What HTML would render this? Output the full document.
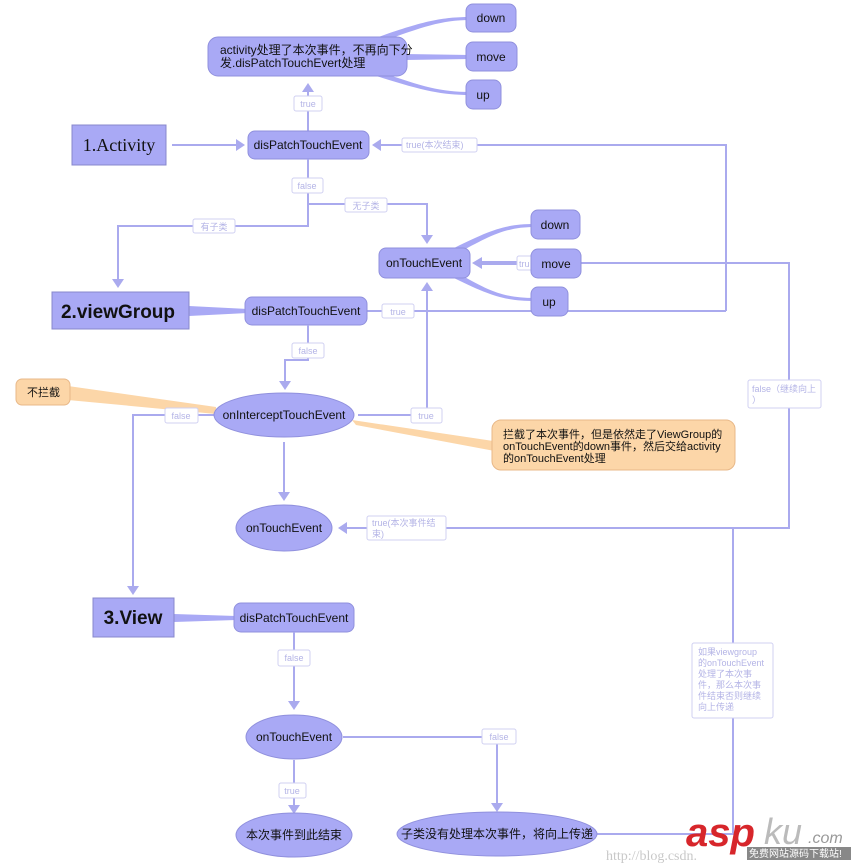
<!DOCTYPE html>
<html><head><meta charset="utf-8"><style>
html,body{margin:0;padding:0;background:#fff;}
svg{display:block;}
text{font-family:"Liberation Sans","Noto Sans CJK SC",sans-serif;}
.n{fill:#a9a9f5;stroke:#9090dd;stroke-width:1;}
.t{font-size:12px;fill:#111;}
.l{stroke:#aaaaee;stroke-width:2;fill:none;}
.lb{fill:#fff;stroke:#d0d0f2;stroke-width:1;}
.lt{font-size:9px;fill:#b4b4e6;}
.w{fill:#a9a9f5;}
.a{fill:#aaaaee;}
</style></head><body>
<svg width="856" height="866" viewBox="0 0 856 866" xmlns="http://www.w3.org/2000/svg">
<path class="w" d="M370,40 C420,22 440,17 470,17 L470,20 C440,20 420,28 375,44 Z"/>
<path class="w" d="M405,54 L470,55 L470,59 L405,60 Z"/>
<path class="w" d="M370,74 C420,90 440,95 470,95 L470,92 C440,92 420,86 375,70 Z"/>
<rect class="n" x="208" y="37" width="199" height="39" rx="10"/>
<text class="t" x="220" y="54">activity处理了本次事件，不再向下分</text>
<text class="t" x="220" y="67">发.disPatchTouchEvert处理</text>
<rect class="n" x="466" y="4" width="50" height="28" rx="7"/><text class="t" x="491" y="22" text-anchor="middle">down</text>
<rect class="n" x="466" y="42" width="51" height="29" rx="7"/><text class="t" x="491" y="61" text-anchor="middle">move</text>
<rect class="n" x="466" y="80" width="35" height="29" rx="7"/><text class="t" x="483" y="99" text-anchor="middle">up</text>

<line class="l" x1="308" y1="131" x2="308" y2="90"/><path class="a" d="M302,92 L308,83 L314,92Z"/>
<rect class="lb" x="294" y="96" width="28" height="15" rx="2"/><text class="lt" x="308" y="107" text-anchor="middle">true</text>
<rect fill="#a9a9f5" stroke="#8888cc" x="72" y="125" width="94" height="40"/>
<text x="119" y="151" text-anchor="middle" style="font-family:'Liberation Serif',serif;font-size:18px;fill:#111">1.Activity</text>
<line class="l" x1="172" y1="145" x2="238" y2="145"/><path class="a" d="M236,139 L245,145 L236,151Z"/>
<rect class="n" x="248" y="131" width="121" height="28" rx="7"/><text class="t" x="308" y="149" text-anchor="middle">disPatchTouchEvent</text>
<path class="l" d="M726,311 L726,145 L380,145"/><path class="a" d="M381,139 L372,145 L381,151Z"/>
<rect class="lb" x="402" y="138" width="75" height="14" rx="2"/><text class="lt" x="406" y="148">true(本次结束)</text>

<path class="l" d="M308,159 L308,226 L118,226 L118,280"/><path class="a" d="M112,279 L118,288 L124,279Z"/>
<path class="l" d="M308,204 L427,204 L427,236"/><path class="a" d="M421,235 L427,244 L433,235Z"/>
<rect class="lb" x="292" y="178" width="31" height="15" rx="2"/><text class="lt" x="307" y="189" text-anchor="middle">false</text>
<rect class="lb" x="345" y="198" width="42" height="14" rx="2"/><text class="lt" x="366" y="209" text-anchor="middle">无子类</text>
<rect class="lb" x="193" y="219" width="42" height="14" rx="2"/><text class="lt" x="214" y="230" text-anchor="middle">有子类</text>

<path class="w" d="M450,250 C490,230 505,224 535,224 L535,227 C505,227 490,236 456,254 Z"/>
<path class="w" d="M450,276 C490,296 505,301 535,301 L535,298 C505,298 490,292 456,272 Z"/>
<path class="l" d="M581,263 L789,263 L789,528 L345,528"/><path class="a" d="M347,522 L338,528 L347,534Z"/>
<line class="l" x1="531" y1="263" x2="480" y2="263" style="stroke-width:4"/><path class="a" d="M482,257 L472,263 L482,269Z"/>
<rect class="lb" x="517" y="256" width="16" height="14" rx="2"/><text class="lt" x="519" y="267">tru</text>
<rect class="n" x="379" y="248" width="91" height="30" rx="7"/><text class="t" x="424" y="267" text-anchor="middle">onTouchEvent</text>
<rect class="n" x="531" y="210" width="49" height="29" rx="7"/><text class="t" x="555" y="229" text-anchor="middle">down</text>
<rect class="n" x="531" y="249" width="50" height="29" rx="7"/><text class="t" x="556" y="268" text-anchor="middle">move</text>
<line class="l" x1="367" y1="311" x2="726" y2="311"/>
<rect class="n" x="531" y="287" width="37" height="29" rx="7"/><text class="t" x="549" y="306" text-anchor="middle">up</text>
<rect class="lb" x="382" y="304" width="32" height="14" rx="2"/><text class="lt" x="398" y="315" text-anchor="middle">true</text>
<rect class="lb" x="748" y="380" width="73" height="28" rx="2"/><text class="lt" x="752" y="392">false（继续向上</text><text class="lt" x="752" y="403">）</text>

<path class="w" d="M189,306 L248,309 L248,313 L189,316 Z"/>
<rect fill="#a9a9f5" stroke="#8888cc" x="52" y="292" width="137" height="37"/>
<text x="118" y="318" text-anchor="middle" style="font-size:19px;font-weight:bold;fill:#111">2.viewGroup</text>
<rect class="n" x="245" y="297" width="122" height="28" rx="7"/><text class="t" x="306" y="315" text-anchor="middle">disPatchTouchEvent</text>
<line class="l" x1="427" y1="415" x2="427" y2="290"/><path class="a" d="M421,291 L427,282 L433,291Z"/>
<path class="l" d="M308,325 L308,360 L285,360 L285,382"/><path class="a" d="M279,381 L285,390 L291,381Z"/>
<rect class="lb" x="292" y="343" width="32" height="15" rx="2"/><text class="lt" x="308" y="354" text-anchor="middle">false</text>

<path d="M68,386 L216,407 L216,414 L68,400Z" fill="#fcd6a8"/>
<path d="M352,420 L500,442 L500,452 L356,425Z" fill="#fcd6a8"/>
<rect x="16" y="379" width="54" height="26" rx="6" fill="#fcd6a8" stroke="#e8b888"/><text class="t" x="27" y="396" style="font-size:11px">不拦截</text>
<path class="l" d="M214,415 L133,415 L133,587"/><path class="a" d="M127,586 L133,595 L139,586Z"/>
<rect class="lb" x="165" y="408" width="33" height="15" rx="2"/><text class="lt" x="181" y="419" text-anchor="middle">false</text>
<line class="l" x1="358" y1="415" x2="427" y2="415"/>
<rect class="lb" x="411" y="408" width="31" height="15" rx="2"/><text class="lt" x="426" y="419" text-anchor="middle">true</text>
<ellipse class="n" cx="284" cy="415" rx="70" ry="22"/><text class="t" x="284" y="419" text-anchor="middle">onInterceptTouchEvent</text>
<rect x="492" y="420" width="243" height="50" rx="9" fill="#fcd6a8" stroke="#e8b888"/>
<text class="t" x="503" y="438" style="font-size:11px">拦截了本次事件，但是依然走了ViewGroup的</text>
<text class="t" x="503" y="450" style="font-size:11px">onTouchEvent的down事件，然后交给activity</text>
<text class="t" x="503" y="462" style="font-size:11px">的onTouchEvent处理</text>
<line class="l" x1="284" y1="442" x2="284" y2="493"/><path class="a" d="M278,492 L284,501 L290,492Z"/>
<ellipse class="n" cx="284" cy="528" rx="48" ry="23"/><text class="t" x="284" y="532" text-anchor="middle">onTouchEvent</text>
<rect class="lb" x="367" y="516" width="79" height="24" rx="2"/><text class="lt" x="372" y="526">true(本次事件结</text><text class="lt" x="372" y="537">束)</text>

<path class="l" d="M597,834 L733,834 L733,528"/>
<rect class="lb" x="692" y="643" width="81" height="75" rx="2"/>
<text class="lt" x="698" y="655">如果viewgroup</text><text class="lt" x="698" y="666">的onTouchEvent</text><text class="lt" x="698" y="677">处理了本次事</text><text class="lt" x="698" y="688">件，那么本次事</text><text class="lt" x="698" y="699">件结束否则继续</text><text class="lt" x="698" y="710">向上传递</text>
<path class="w" d="M174,614 L236,616 L236,620 L174,622Z"/>
<rect fill="#a9a9f5" stroke="#8888cc" x="93" y="598" width="81" height="39"/>
<text x="133" y="624" text-anchor="middle" style="font-size:19px;font-weight:bold;fill:#111">3.View</text>
<rect class="n" x="234" y="603" width="120" height="29" rx="7"/><text class="t" x="294" y="622" text-anchor="middle">disPatchTouchEvent</text>
<line class="l" x1="294" y1="632" x2="294" y2="702"/><path class="a" d="M288,701 L294,710 L300,701Z"/>
<rect class="lb" x="278" y="650" width="32" height="16" rx="2"/><text class="lt" x="294" y="661" text-anchor="middle">false</text>
<path class="l" d="M343,737 L497,737 L497,804"/><path class="a" d="M491,803 L497,812 L503,803Z"/>
<rect class="lb" x="482" y="729" width="34" height="15" rx="2"/><text class="lt" x="499" y="740" text-anchor="middle">false</text>
<ellipse class="n" cx="294" cy="737" rx="48" ry="22"/><text class="t" x="294" y="741" text-anchor="middle">onTouchEvent</text>
<line class="l" x1="294" y1="760" x2="294" y2="806"/><path class="a" d="M288,805 L294,814 L300,805Z"/>
<rect class="lb" x="279" y="783" width="27" height="15" rx="2"/><text class="lt" x="292" y="794" text-anchor="middle">true</text>
<ellipse class="n" cx="294" cy="835" rx="58" ry="22"/><text class="t" x="294" y="839" text-anchor="middle">本次事件到此结束</text>
<ellipse class="n" cx="497" cy="834" rx="100" ry="22"/><text class="t" x="497" y="838" text-anchor="middle">子类没有处理本次事件，将向上传递</text>

<text x="606" y="860" style="font-family:'Liberation Serif',serif;font-size:14px;fill:#c8c8c8">http://blog.csdn.</text>
<text x="686" y="846" style="font-size:40px;font-weight:bold;font-style:italic;fill:#d7262b">asp</text>
<text x="764" y="844" style="font-size:36px;fill:#bbb;font-style:italic">ku</text>
<text x="808" y="843" style="font-size:16px;fill:#999;font-style:italic">.com</text>
<rect x="747" y="847" width="104" height="13" fill="#888"/>
<text x="749" y="857" style="font-size:10px;fill:#fff">免费网站源码下载站!</text>
</svg>
</body></html>
